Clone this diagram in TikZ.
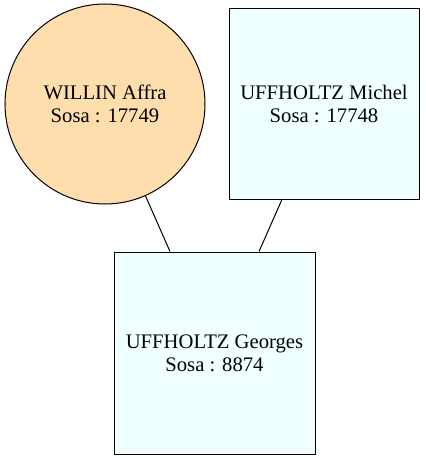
\documentclass[tikz,border=0pt]{standalone}
\usepackage{fontspec}
\setmainfont{Liberation Serif}
\definecolor{navajo}{HTML}{FFDEAD}
\definecolor{azure}{HTML}{F0FFFF}
\begin{document}
\begin{tikzpicture}[x=0.75pt,y=-0.75pt,
    person/.style={draw,line width=0.75pt,align=center,inner sep=0pt,
        font=\fontsize{15.5}{17.3}\selectfont},
    wife/.style={person,circle,fill=navajo,minimum size=150pt},
    husband/.style={person,rectangle,fill=azure,minimum width=142.5pt,minimum height=142.5pt},
    child/.style={person,rectangle,fill=azure,minimum width=150.75pt,minimum height=151.5pt}]
    \useasboundingbox (0,0) rectangle (425,460);
    \begin{scope}
        \node[wife] (Affra) at (105,104) {WILLIN Affra\\Sosa : 17749};
        \node[husband] (Michel) at (324,104) {UFFHOLTZ Michel\\Sosa : 17748};
        \node[child] (Georges) at (214.5,353) {UFFHOLTZ Georges\\Sosa : 8874};
    \end{scope}

    \begin{scope}[line width=0.75pt]
        \path [-] (Affra) edge (Georges);
        \path [-] (Michel) edge (Georges);
    \end{scope}
\end{tikzpicture}
\end{document}
